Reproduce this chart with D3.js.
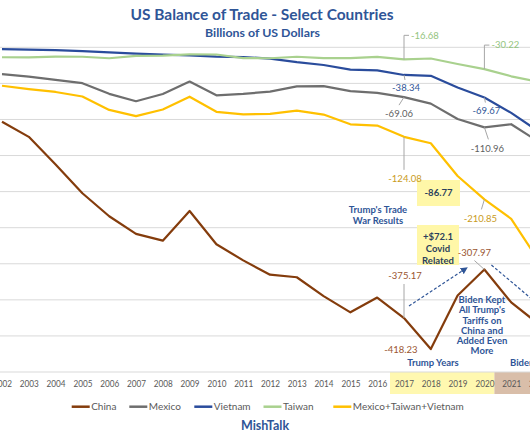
<!DOCTYPE html>
<html><head><meta charset="utf-8">
<script src="https://cdn.jsdelivr.net/npm/d3@7"></script>
<style>
html,body{margin:0;padding:0;background:#fff;}
svg{display:block;font-family:Lato,"Liberation Sans",sans-serif;}
</style></head>
<body>
<script>
// ---- data (billions of US dollars) ----
const years = [2002,2003,2004,2005,2006,2007,2008,2009,2010,2011,2012,2013,2014,2015,2016,2017,2018,2019,2020,2021,2022];
const china  = [-103.1,-124.1,-162.3,-202.3,-234.1,-258.5,-268.0,-226.9,-273.0,-295.3,-315.1,-318.7,-344.8,-367.3,-346.8,-375.17,-418.23,-344.0,-307.97,-353.5,-382.9];
const mexico = [-37.1,-40.6,-45.1,-49.7,-64.5,-74.8,-64.7,-47.5,-66.5,-64.5,-61.4,-54.2,-53.8,-60.7,-63.2,-69.06,-78.0,-99.4,-110.96,-106.6,-130.5];
const vietnam= [-2.4,-3.3,-3.9,-5.4,-7.1,-8.7,-10.1,-11.1,-12.9,-13.6,-15.6,-20.5,-24.5,-30.9,-32.0,-38.34,-39.5,-55.8,-69.67,-90.9,-116.2];
const taiwan = [-13.8,-14.1,-12.9,-13.1,-15.2,-11.8,-11.4,-9.9,-10.0,-14.9,-15.2,-13.1,-14.9,-15.1,-13.3,-16.68,-15.5,-23.1,-30.22,-40.2,-47.8];
const mtv    = [-53.3,-58.0,-61.9,-68.2,-86.8,-95.3,-86.2,-68.5,-89.4,-93.0,-92.2,-87.8,-93.2,-106.7,-108.5,-124.08,-133.0,-178.3,-210.85,-237.7,-294.5];
const seriesNames = ["China","Mexico","Vietnam","Taiwan","Mexico+Taiwan+Vietnam"];
const yTicks = [0,-50,-100,-150,-200,-250,-300,-350,-400,-450];
// labelled points: [series index, year, text]
const pointLabels = [
  [3,2017,"-16.68"],[3,2020,"-30.22"],
  [2,2017,"-38.34"],[2,2020,"-69.67"],
  [1,2017,"-69.06"],[1,2020,"-110.96"],
  [4,2017,"-124.08"],[4,2020,"-210.85"],
  [0,2017,"-375.17"],[0,2018,"-418.23"],[0,2020,"-307.97"]
];

const W=530,H=442;
const colors=["#843c0c","#6e6e6e","#2a4c9c","#a9d18e","#ffc000"];
const labelColors=["#9a5530","#5f5f5f","#2f5597","#93c47d","#c99a1c"];
const data=[china,mexico,vietnam,taiwan,mtv];
const blue="#2f5597";

const svg=d3.select("body").append("svg").attr("width",W).attr("height",H);
svg.append("rect").attr("width",W).attr("height",H).attr("fill","#fff");

const x=d3.scalePoint().domain(years).range([2,2+20*26.8]);
const y=d3.scaleLinear().domain([-450,0]).range([372,47.3]);

// period shading behind the axis labels
svg.append("rect").attr("x",x(2017)-14).attr("y",372).attr("width",x(2020)+10-(x(2017)-14)).attr("height",22).attr("fill","#fff8b0");
svg.append("rect").attr("x",x(2020)+10).attr("y",372).attr("width",80).attr("height",22).attr("fill","#d9bea9");

// gridlines
svg.append("g").selectAll("line").data(yTicks).join("line")
  .attr("x1",-20).attr("x2",W+20).attr("y1",d=>y(d)).attr("y2",d=>y(d))
  .attr("stroke","#d9d9d9").attr("stroke-width",1);

// x axis labels
const xa=svg.append("g").attr("transform","translate(0,372)")
  .call(d3.axisBottom(x).tickSize(0).tickPadding(8));
xa.select(".domain").remove();
xa.selectAll("text").attr("font-family","Lato").attr("font-size",9.5).attr("fill","#595959")
  .attr("textLength",19).attr("lengthAdjust","spacingAndGlyphs");

// annotation boxes
svg.append("rect").attr("x",x(2017)+13).attr("y",180).attr("width",43).attr("height",26).attr("fill","#fff7a8");
svg.append("rect").attr("x",x(2017)+13).attr("y",225).attr("width",42).attr("height",40).attr("fill","#fff7a8");

// lines
const line=d3.line().x((d,i)=>x(years[i])).y(d=>y(d));
svg.append("g").selectAll("path").data(data).join("path")
  .attr("d",d=>line(d)).attr("fill","none")
  .attr("stroke",(d,i)=>colors[i]).attr("stroke-width",2.2).attr("stroke-linejoin","round");

// leader lines + point labels
const lead="#a6a6a6";
const L=svg.append("g").attr("font-family","Lato").attr("font-size",9.5);
function val(s,yr){return data[s][years.indexOf(yr)];}
function label(s,yr,txt,tx,ty,anchor,pts){
  if(pts) L.append("polyline").attr("points",pts.map(p=>p.join(",")).join(" ")).attr("fill","none").attr("stroke",lead).attr("stroke-width",1);
  L.append("text").attr("x",tx).attr("y",ty).attr("dy","0.35em").attr("text-anchor",anchor).attr("fill",labelColors[s]).text(txt);
}
pointLabels.forEach(([s,yr,txt])=>{
  const px=x(yr),py=y(val(s,yr));
  if(s===3) label(s,yr,txt,px+7,py-24,"start",[[px,py],[px,py-24],[px+5,py-24]]);
  else if(s===2) label(s,yr,txt,px+2,py+13,"middle",[[px,py],[px+1,py+5]]);
  else if(s===1 && yr===2017) label(s,yr,txt,px-5,py+17,"middle",[[px,py],[px-5,py+8]]);
  else if(s===1) label(s,yr,txt,px+3,py+21,"middle",[[px,py],[px+4,py+12]]);
  else if(s===4 && yr===2017) label(s,yr,txt,px+1,py+42,"middle",[[px,py],[px,py+33]]);
  else if(s===4) label(s,yr,txt,px-4,py+19,"middle",[[px,py],[px-3,py+10]]);
  else if(s===0 && yr===2017) label(s,yr,txt,px+1,py-42,"middle",[[px,py],[px,py-34]]);
  else if(s===0 && yr===2018) label(s,yr,txt,px-30,py+1,"middle",null);
  else if(s===0) label(s,yr,txt,px-10,py-17,"middle",[[px,py],[px-10,py-9]]);
});

// annotation texts
const A=svg.append("g").attr("font-family","Lato").attr("font-weight","bold").attr("font-size",9.5).attr("text-anchor","middle");
A.append("text").attr("x",x(2017)+34.5).attr("y",193).attr("dy","0.35em").attr("fill","#2b3f5c").text("-86.77");
["+$72.1","Covid","Related"].forEach((t,i)=>A.append("text").attr("x",x(2017)+34).attr("y",237+i*12).attr("dy","0.35em").attr("fill","#2b3f5c").text(t));
["Trump's Trade","War Results"].forEach((t,i)=>A.append("text").attr("x",378).attr("y",210+i*10.5).attr("dy","0.35em").attr("fill",blue).text(t));
["Biden Kept","All Trump's","Tariffs on","China and","Added Even","More"].forEach((t,i)=>A.append("text").attr("x",482).attr("y",300+i*10.1).attr("dy","0.35em").attr("fill",blue).text(t));
A.append("text").attr("x",433).attr("y",363).attr("dy","0.35em").attr("fill",blue).text("Trump Years");
A.append("text").attr("x",510).attr("y",363).attr("dy","0.35em").attr("text-anchor","start").attr("fill",blue).text("Biden Years");

// dashed arrows
const defs=svg.append("defs");
defs.append("marker").attr("id","ah").attr("viewBox","0 0 10 10").attr("refX",8).attr("refY",5)
  .attr("markerWidth",6).attr("markerHeight",6).attr("orient","auto")
  .append("path").attr("d","M0,0L10,5L0,10z").attr("fill",blue);
svg.append("line").attr("x1",x(2017)+5).attr("y1",306).attr("x2",x(2019)+9).attr("y2",268)
  .attr("stroke",blue).attr("stroke-width",1.2).attr("stroke-dasharray","3,2").attr("marker-end","url(#ah)");
svg.append("line").attr("x1",x(2020)+7).attr("y1",265).attr("x2",x(2022)+8).attr("y2",311)
  .attr("stroke",blue).attr("stroke-width",1.2).attr("stroke-dasharray","3,2").attr("marker-end","url(#ah)");

// titles
svg.append("text").attr("x",262).attr("y",15).attr("dy","0.35em").attr("text-anchor","middle")
  .attr("font-family","Lato").attr("font-weight","bold").attr("font-size",14.5).attr("fill",blue)
  .attr("textLength",263).attr("lengthAdjust","spacingAndGlyphs").text("US Balance of Trade - Select Countries");
svg.append("text").attr("x",262.5).attr("y",33.3).attr("dy","0.35em").attr("text-anchor","middle")
  .attr("font-family","Lato").attr("font-weight","bold").attr("font-size",11).attr("fill",blue)
  .attr("textLength",115).attr("lengthAdjust","spacingAndGlyphs").text("Billions of US Dollars");

// legend
const legX=[71.7,129.3,194.3,263.5,333.3];
const lg=svg.append("g").attr("font-family","Lato").attr("font-size",10).attr("fill","#595959");
seriesNames.forEach((n,i)=>{
  lg.append("line").attr("x1",legX[i]).attr("x2",legX[i]+18).attr("y1",406.7).attr("y2",406.7).attr("stroke",colors[i]).attr("stroke-width",2.5);
  lg.append("text").attr("x",legX[i]+19.5).attr("y",406.7).attr("dy","0.35em").text(n);
});

svg.append("text").attr("x",265).attr("y",425.7).attr("dy","0.35em").attr("text-anchor","middle")
  .attr("font-family","Lato").attr("font-weight","bold").attr("font-size",12.5).attr("fill",blue).text("MishTalk");
</script>
</body></html>
